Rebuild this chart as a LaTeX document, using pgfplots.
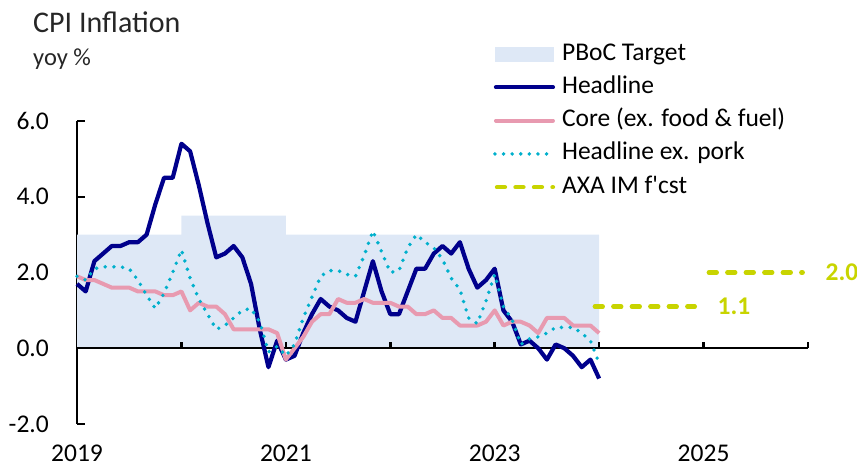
\documentclass[border=0pt]{standalone}
\usepackage{pgfplots}
\pgfplotsset{compat=1.18}
\usepackage{pgfplotstable}
\usepackage{fontspec}
\setmainfont{Carlito}
\newfontfamily\aposfont{Carlito}[Ligatures=TeXOff]
\definecolor{band}{RGB}{222,232,246}
\definecolor{navy}{RGB}{0,0,140}
\definecolor{pinkc}{RGB}{232,154,176}
\definecolor{cyanc}{RGB}{0,176,204}
\definecolor{lime}{RGB}{200,212,0}
\newcommand\tf{\fontsize{25.5}{30}\selectfont}

\pgfplotstableread{
m head core expork
0 1.7 1.9 1.9
1 1.5 1.8 1.8
2 2.3 1.8 2.1
3 2.5 1.7 2.15
4 2.7 1.6 2.15
5 2.7 1.6 2.15
6 2.8 1.6 2.1
7 2.8 1.5 1.8
8 3.0 1.5 1.4
9 3.8 1.5 1.05
10 4.5 1.4 1.45
11 4.5 1.4 2.0
12 5.4 1.5 2.6
13 5.2 1.0 1.85
14 4.3 1.2 1.3
15 3.3 1.1 0.9
16 2.4 1.1 0.5
17 2.5 0.9 0.6
18 2.7 0.5 0.8
19 2.4 0.5 1.0
20 1.7 0.5 1.05
21 0.5 0.5 0.7
22 -0.5 0.5 -0.1
23 0.2 0.4 0.05
24 -0.3 -0.3 -0.2
25 -0.2 0.0 0.1
26 0.4 0.3 0.8
27 0.9 0.7 1.35
28 1.3 0.9 1.9
29 1.1 0.9 2.05
30 1.0 1.3 2.05
31 0.8 1.2 1.95
32 0.7 1.2 1.9
33 1.5 1.3 2.45
34 2.3 1.2 3.1
35 1.5 1.2 2.55
36 0.9 1.2 2.0
37 0.9 1.1 2.05
38 1.5 1.1 2.65
39 2.1 0.9 3.0
40 2.1 0.9 2.8
41 2.5 1.0 2.65
42 2.7 0.8 2.35
43 2.5 0.8 1.85
44 2.8 0.6 1.55
45 2.1 0.6 0.8
46 1.6 0.6 0.65
47 1.8 0.7 1.25
48 2.1 1.0 1.95
49 1.0 0.6 1.1
50 0.7 0.7 0.75
51 0.1 0.7 0.1
52 0.2 0.6 0.25
53 0.0 0.4 0.3
54 -0.3 0.8 0.4
55 0.1 0.8 0.55
56 0.0 0.8 0.55
57 -0.2 0.6 0.55
58 -0.5 0.6 0.4
59 -0.3 0.6 0.2
60 -0.8 0.4 -0.4
}\cpi

\begin{document}
\begin{tikzpicture}
\useasboundingbox (0,0) rectangle (857pt,468pt);
\begin{axis}[
  at={(77pt,44pt)}, anchor=south west,
  scale only axis, width=731pt, height=303pt,
  xmin=0, xmax=84, ymin=-2, ymax=6,
  clip=false,
  axis y line*=left, axis x line*=bottom,
  axis line style={line width=2.2pt, black},
  x axis line style={draw=none},
  xtick={0,24,48,72}, xticklabels={2019,2021,2023,2025},
  xtick style={draw=none},
  ytick={-2,0,2,4,6}, yticklabels={-2.0,0.0,2.0,4.0,6.0},
  ytick style={line width=2pt, black},
  tick align=inside, major tick length=8pt,
  tick label style={font=\tf, text=black},
  yticklabel style={inner sep=0pt, xshift=-28pt},
  xticklabel style={inner sep=0pt, yshift=-21pt},
  legend style={at={(0.5691,1.2607)}, anchor=north west, draw=none, fill=none,
    inner sep=0pt, outer sep=0pt, row sep=9.3pt, font=\tf,
    nodes={inner sep=0pt, text height=18pt, text depth=6pt},
    /tikz/every odd column/.append style={column sep=7pt}},
  legend cell align=left,
]
\addplot[fill=band, draw=none,
  legend image code/.code={\fill[band] (0pt,-7.5pt) rectangle (59pt,7.5pt);}]
  coordinates {(0,0) (0,3) (12,3) (12,3.5) (24,3.5) (24,3) (60,3) (60,0)};
\addlegendentry{PBoC Target}
\draw[black, line width=2.5pt] (axis cs:0,0) -- (axis cs:84,0);
\pgfplotsinvokeforeach{12,24,36,48,60,72,84}{\draw[black, line width=2.5pt] (axis cs:#1,0) -- ++(0pt,6pt);}
\addplot[navy, line width=4.2pt, line join=round,
  legend image code/.code={\draw[navy, line width=4.2pt, line cap=round] (1pt,0pt) -- (58pt,0pt);}]
  table[x=m, y=head] {\cpi};
\addlegendentry{Headline}
\addplot[pinkc, line width=4pt, line join=round,
  legend image code/.code={\draw[pinkc, line width=4pt, line cap=round] (1pt,0pt) -- (58pt,0pt);}]
  table[x=m, y=core] {\cpi};
\addlegendentry{Core (ex. food \& fuel)}
\addplot[cyanc, line width=3.9pt, line cap=round, dash pattern=on 0pt off 8.7pt,
  legend image code/.code={\draw[cyanc, line width=3.9pt, line cap=round, dash pattern=on 0pt off 8.6pt] (0pt,0pt) -- (52pt,0pt);}]
  table[x=m, y=expork] {\cpi};
\addlegendentry{Headline ex. pork}
\addplot[lime, line width=4.3pt, line cap=round, dash pattern=on 8pt off 10.5pt,
  legend image code/.code={\draw[lime, line width=4.3pt, line cap=round, dash pattern=on 8pt off 10.5pt] (2pt,0pt) -- (58pt,0pt);}]
  coordinates {(59.5,1.1) (71.0,1.1)};
\addlegendentry{AXA IM f{\aposfont '}cst}
\addplot[lime, line width=4.3pt, line cap=round, dash pattern=on 8pt off 10.5pt, forget plot]
  coordinates {(72.6,2.0) (83.4,2.0)};
\node[anchor=west, inner sep=0pt, text=lime, font=\tf\bfseries] at (axis cs:73.6,1.1) {1.1};
\node[anchor=west, inner sep=0pt, text=lime, font=\tf\bfseries] at (axis cs:86.0,2.0) {2.0};
\end{axis}
\node[anchor=base west, inner sep=0pt, font=\fontsize{30}{34}\selectfont, text=black!85] at (33pt,435pt) {CPI Inflation};
\node[anchor=base west, inner sep=0pt, font=\fontsize{24.5}{30}\selectfont, text=black!85] at (33pt,402pt) {yoy \%};
\end{tikzpicture}
\end{document}
